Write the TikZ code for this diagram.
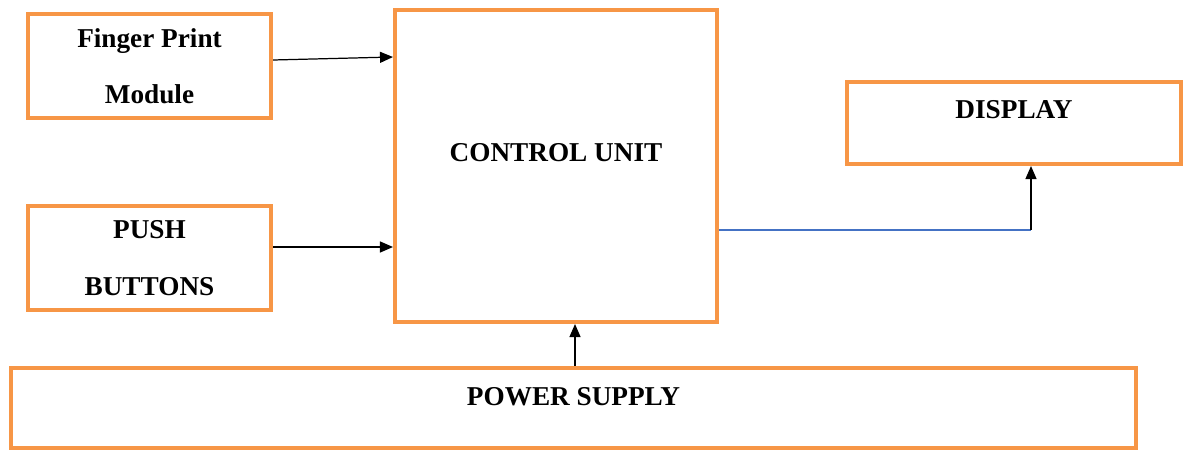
\documentclass[tikz,border=0pt]{standalone}
\usepackage{fontspec}
\setmainfont{Liberation Serif}
\usepackage{xcolor}
\usetikzlibrary{arrows.meta}

\definecolor{boxorange}{HTML}{F79646}
\definecolor{lineblue}{HTML}{4472C4}

\tikzset{
    blockbox/.style={draw=boxorange, line width=2.3pt, fill=white, inner sep=0pt},
    blocktext/.style={font=\fontsize{15.5}{32}\selectfont\bfseries, align=center},
    arr/.style={line width=0.7pt, -{Triangle[length=2.6mm,width=2.2mm]}}
}

\begin{document}
\begin{tikzpicture}
        \useasboundingbox (0,0) rectangle (23.66,9);

        % Входные блоки
        \node[blockbox, blocktext, minimum width=4.86cm, minimum height=2.08cm] (fpm) at (2.99,7.68) {Finger Print\\Module};
        \node[blockbox, blocktext, minimum width=4.86cm, minimum height=2.08cm] (push) at (2.99,3.84) {PUSH\\BUTTONS};

        % Блок управления
        \node[blockbox, minimum width=6.44cm, minimum height=6.24cm,
              label={[blocktext, yshift=0.26cm]center:CONTROL UNIT}] (cu) at (11.12,5.68) {};

        % Дисплей
        \node[blockbox, minimum width=6.68cm, minimum height=1.64cm,
              label={[blocktext, yshift=0.26cm]center:DISPLAY}] (disp) at (20.28,6.54) {};

        % Питание
        \node[blockbox, minimum width=22.5cm, minimum height=1.6cm,
              label={[blocktext, yshift=0.22cm]center:POWER SUPPLY}] (ps) at (11.47,0.84) {};

        % Стрелки
        \draw[arr] ([yshift=1.2mm]fpm.east) -- ([yshift=1.8mm]fpm.east -| cu.west);
        \draw[arr] ([yshift=2.2mm]push.east) -- ([yshift=2.2mm]push.east -| cu.west);
        \draw[arr] ([xshift=3.8mm]cu.south |- ps.north) -- ([xshift=3.8mm]cu.south);

        \coordinate (cuout) at ([yshift=-12.8mm]cu.east);
        \coordinate (dispin) at ([xshift=3.4mm]disp.south);
        \draw[lineblue, line width=0.6pt] (cuout) -- (cuout -| dispin);
        \draw[arr] (cuout -| dispin) -- (dispin);
    \end{tikzpicture}
\end{document}
